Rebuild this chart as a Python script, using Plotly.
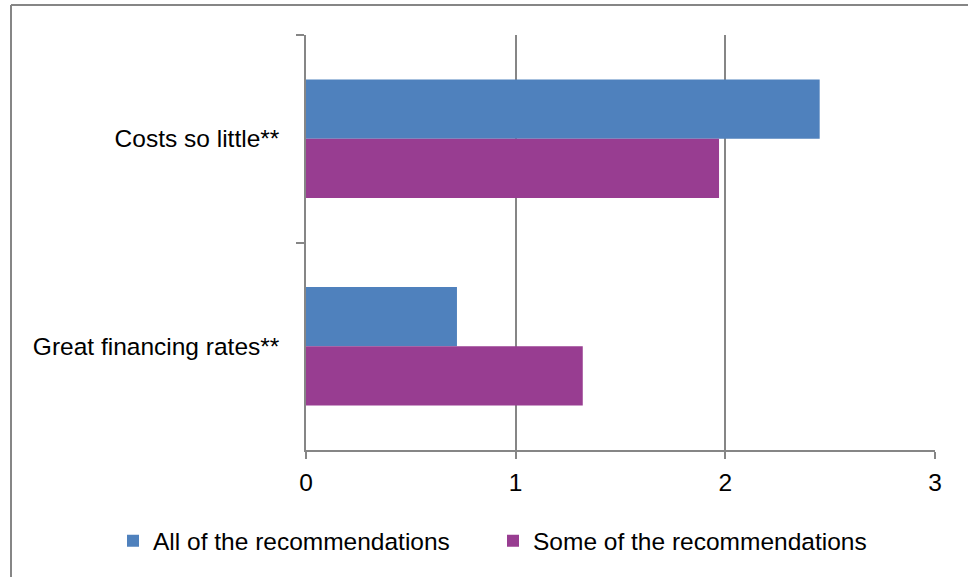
import plotly.graph_objects as go

# Survey reasons, shown top to bottom
categories = ["Costs so little**", "Great financing rates**"]
series_names = ["All of the recommendations", "Some of the recommendations"]
all_values = [2.45, 0.72]
some_values = [1.97, 1.32]
x_ticks = [0, 1, 2, 3]

colors = ["#4F81BD", "#983D91"]
axis_gray = "#868686"
font_family = "Liberation Sans, Arial, sans-serif"

W, H = 968, 577
L, R, T, B = 306, 33, 35, 127
pw, ph = W - L - R, H - T - B

# each series gets its own legend box so the two entries can be spaced freely
legend_ids = ["legend", "legend2"]
legend_left_px = [113, 493]

fig = go.Figure()
for name, vals, col, lg in zip(series_names, [all_values, some_values], colors, legend_ids):
    fig.add_trace(go.Bar(
        y=categories, x=vals, name=name, orientation="h",
        marker=dict(color=col, line=dict(width=0)),
        legend=lg,
    ))

legend_common = dict(
    orientation="h", xanchor="left", y=-0.219, yanchor="middle",
    font=dict(size=24.5), itemwidth=30, bgcolor="rgba(0,0,0,0)",
)

fig.update_layout(
    width=W, height=H,
    margin=dict(l=L, r=R, t=T, b=B, autoexpand=False),
    paper_bgcolor="white", plot_bgcolor="white",
    barmode="group", bargap=0.43, bargroupgap=0,
    font=dict(family=font_family, size=24.5, color="black"),
    showlegend=True,
    legend=dict(x=(legend_left_px[0] - L) / pw, **legend_common),
    legend2=dict(x=(legend_left_px[1] - L) / pw, **legend_common),
    xaxis=dict(
        range=[0, 3], tickvals=x_ticks, ticktext=[str(v) for v in x_ticks],
        showgrid=True, gridcolor=axis_gray, gridwidth=1.5,
        showline=True, linecolor=axis_gray, linewidth=1.5,
        ticks="outside", ticklen=7, tickcolor=axis_gray, tickwidth=1.5,
        ticklabelstandoff=3,
        zeroline=False, fixedrange=True,
    ),
    yaxis=dict(
        categoryorder="array", categoryarray=categories, autorange="reversed",
        showgrid=False, showline=True, linecolor=axis_gray, linewidth=1.5,
        ticks="outside", tickson="boundaries", ticklen=8,
        tickcolor=axis_gray, tickwidth=1.5, ticklabelstandoff=20,
        zeroline=False, fixedrange=True,
    ),
    shapes=[
        # outer chart frame (left and top edges)
        dict(type="line", xref="paper", yref="paper",
             x0=(11 - L) / pw, x1=(W - L + 2) / pw,
             y0=(H - B - 5) / ph, y1=(H - B - 5) / ph,
             line=dict(color=axis_gray, width=2)),
        dict(type="line", xref="paper", yref="paper",
             x0=(11 - L) / pw, x1=(11 - L) / pw,
             y0=(H - B - 5) / ph, y1=-(B + 5) / ph,
             line=dict(color=axis_gray, width=2)),
    ],
)

fig.write_html("out.html")
